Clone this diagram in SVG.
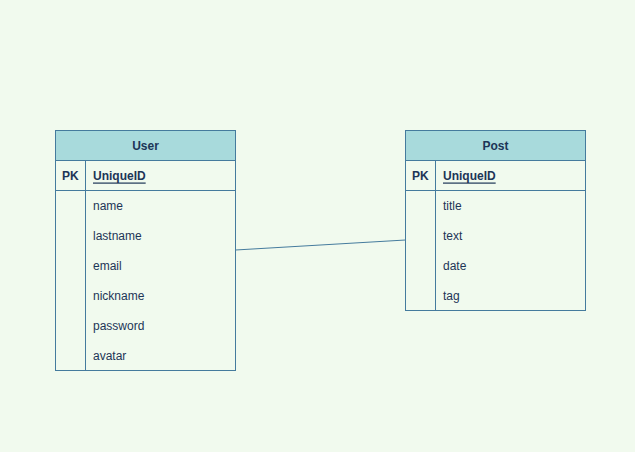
<svg xmlns="http://www.w3.org/2000/svg" width="635" height="452" viewBox="0 0 635 452">
  <style>
    .box { fill: #F1FAEE; stroke: #457B9D; stroke-width: 1; }
    .head { fill: #A8DADC; stroke: #457B9D; stroke-width: 1; }
    .sep { stroke: #457B9D; stroke-width: 1; fill: none; }
    text { font-family: "Liberation Sans", Arial, sans-serif; font-size: 12px; fill: #1D3557; dominant-baseline: central; }
    .title { font-weight: bold; text-anchor: middle; }
    .key { font-weight: bold; }
    .pk { font-weight: bold; text-decoration: underline; }
  </style>
  <rect x="0" y="0" width="635" height="452" fill="#F1FAEE"/>

  <g id="connectors">
    <path class="sep" d="M235.5 250 L405.5 240"/>
  </g>

  <g id="user">
    <rect class="box" x="55.5" y="130.5" width="180" height="240"/>
    <rect class="head" x="55.5" y="130.5" width="180" height="30"/>
    <path class="sep" d="M55.5 190.5 H235.5 M85.5 160.5 V370.5"/>
    <text class="title" x="145.5" y="145.5">User</text>
    <text class="key" x="62" y="175.5">PK</text>
    <text class="pk" x="93" y="175.5">UniqueID</text>
    <text x="93" y="205.5">name</text>
    <text x="93" y="235.5">lastname</text>
    <text x="93" y="265.5">email</text>
    <text x="93" y="295.5">nickname</text>
    <text x="93" y="325.5">password</text>
    <text x="93" y="355.5">avatar</text>
  </g>

  <g id="post">
    <rect class="box" x="405.5" y="130.5" width="180" height="180"/>
    <rect class="head" x="405.5" y="130.5" width="180" height="30"/>
    <path class="sep" d="M405.5 190.5 H585.5 M435.5 160.5 V310.5"/>
    <text class="title" x="495.5" y="145.5">Post</text>
    <text class="key" x="412" y="175.5">PK</text>
    <text class="pk" x="443" y="175.5">UniqueID</text>
    <text x="443" y="205.5">title</text>
    <text x="443" y="235.5">text</text>
    <text x="443" y="265.5">date</text>
    <text x="443" y="295.5">tag</text>
  </g>
</svg>
